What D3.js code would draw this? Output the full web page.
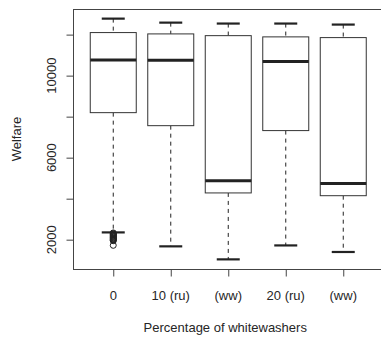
<!DOCTYPE html>
<html>
<head>
<meta charset="utf-8">
<script src="https://cdn.jsdelivr.net/npm/d3@7"></script>
<style>
  html, body { margin: 0; padding: 0; background: #fff; }
  svg { display: block; }
  text { font-family: "Liberation Sans", Arial, Helvetica, sans-serif; fill: #262626; }
</style>
</head>
<body>
<svg id="chart" width="381" height="337"></svg>
<script>
// Welfare by percentage of whitewashers (boxplot summary per group)
const categories   = ["0", "10 (ru)", "(ww)", "20 (ru)", "(ww)"];
const whiskerHigh  = [12780, 12585, 12540, 12540, 12490];
const upperQuart   = [12100, 12035, 11950, 11890, 11855];
const medians      = [10765, 10745, 4880, 10685, 4745];
const lowerQuart   = [8195, 7560, 4280, 7320, 4145];
const whiskerLow   = [2355, 1675, 1040, 1720, 1400];
const outliers     = [
  [2330, 2300, 2270, 2240, 2210, 2180, 2150, 2120, 2090, 2060, 2030, 2000, 1975, 1950, 1725],
  [], [], [], []
];
const yTicks = [2000, 6000, 10000];
const yMinorTicks = [2000, 4000, 6000, 8000, 10000, 12000];

const svg = d3.select("#chart");
const plot = { left: 73, top: 9, right: 383.5, bottom: 269 };

// Data range padded by 4% on each side
const lo = d3.min([...whiskerLow, ...outliers.flat()]);
const hi = d3.max(whiskerHigh);
const pad = (hi - lo) * 0.04;
const y = d3.scaleLinear().domain([lo - pad, hi + pad]).range([plot.bottom, plot.top]);
const x = d3.scaleLinear().domain([0.3, categories.length + 0.7]).range([plot.left, plot.right]);

const ink = "#222";
const unit = x(2) - x(1);
const boxW = unit * 0.8;
const capW = boxW / 2;

// Plot frame
svg.append("rect")
  .attr("x", plot.left + 0.5).attr("y", plot.top + 0.5)
  .attr("width", plot.right - plot.left).attr("height", plot.bottom - plot.top)
  .attr("fill", "none").attr("stroke", "#444").attr("stroke-width", 1);

// Y axis
const yAxis = svg.append("g").attr("transform", `translate(${plot.left + 0.5},0)`)
  .call(d3.axisLeft(y).tickValues(yMinorTicks).tickSize(7).tickFormat(""));
yAxis.select(".domain").attr("d", `M0,${y(12000)}V${y(2000)}`).attr("stroke", "#444");
yAxis.selectAll(".tick line").attr("stroke", "#444");
svg.append("g").selectAll("text").data(yTicks).join("text")
  .attr("transform", d => `translate(${plot.left - 17},${y(d)}) rotate(-90)`)
  .attr("text-anchor", "middle")
  .attr("font-size", 13)
  .text(d => d);

// X axis
const xAxis = svg.append("g").attr("transform", `translate(0,${plot.bottom + 0.5})`)
  .call(d3.axisBottom(x).tickValues(d3.range(1, categories.length + 1)).tickSize(7)
    .tickFormat(""));
xAxis.select(".domain").attr("d", `M${x(1)},0H${x(categories.length)}`).attr("stroke", "#444");
xAxis.selectAll(".tick line").attr("stroke", "#444");
svg.append("g").selectAll("text").data(categories).join("text")
  .attr("x", (d, i) => x(i + 1))
  .attr("y", 300)
  .attr("text-anchor", "middle")
  .attr("font-size", 13)
  .text(d => d);

// Axis titles
svg.append("text")
  .attr("x", (plot.left + plot.right) / 2 - 3).attr("y", 332)
  .attr("text-anchor", "middle").attr("font-size", 13)
  .text("Percentage of whitewashers");
svg.append("text")
  .attr("transform", `translate(21,${(plot.top + plot.bottom) / 2}) rotate(-90)`)
  .attr("text-anchor", "middle").attr("font-size", 13)
  .text("Welfare");

// Boxes
const groups = svg.append("g").selectAll("g").data(categories).join("g");
groups.each(function (d, i) {
  const g = d3.select(this);
  const cx = x(i + 1);
  // dashed whiskers
  g.append("line").attr("x1", cx).attr("x2", cx)
    .attr("y1", y(whiskerHigh[i])).attr("y2", y(upperQuart[i]))
    .attr("stroke", ink).attr("stroke-dasharray", "4,4");
  g.append("line").attr("x1", cx).attr("x2", cx)
    .attr("y1", y(lowerQuart[i])).attr("y2", y(whiskerLow[i]))
    .attr("stroke", ink).attr("stroke-dasharray", "4,4");
  // caps
  [whiskerHigh[i], whiskerLow[i]].forEach(v => {
    g.append("line").attr("x1", cx - capW / 2).attr("x2", cx + capW / 2)
      .attr("y1", y(v)).attr("y2", y(v))
      .attr("stroke", ink).attr("stroke-width", 2.2);
  });
  // box
  g.append("rect")
    .attr("x", cx - boxW / 2).attr("y", y(upperQuart[i]))
    .attr("width", boxW).attr("height", y(lowerQuart[i]) - y(upperQuart[i]))
    .attr("fill", "#fff").attr("stroke", "#333").attr("stroke-width", 1);
  // median
  g.append("line").attr("x1", cx - boxW / 2).attr("x2", cx + boxW / 2)
    .attr("y1", y(medians[i])).attr("y2", y(medians[i]))
    .attr("stroke", ink).attr("stroke-width", 3);
  // outliers
  g.selectAll("circle").data(outliers[i]).join("circle")
    .attr("cx", cx).attr("cy", v => y(v)).attr("r", 3)
    .attr("fill", "none").attr("stroke", ink).attr("stroke-width", 1);
});
</script>
</body>
</html>
